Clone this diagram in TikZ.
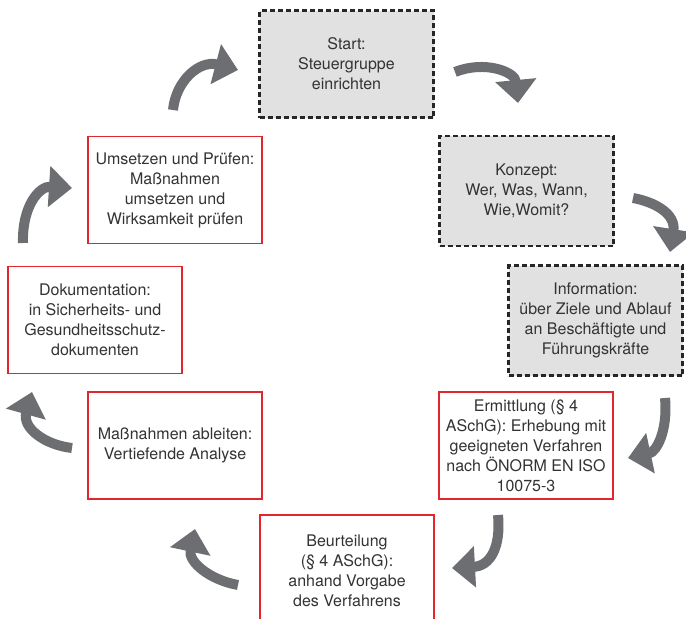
\documentclass[tikz,border=0pt]{standalone}
\usepackage{fontspec}
\setmainfont{TeX Gyre Heros}
\usetikzlibrary{arrows.meta}

\definecolor{boxred}{HTML}{E3262B}
\definecolor{boxgray}{HTML}{E1E1E2}
\definecolor{arrowgray}{HTML}{6D6E71}
\definecolor{textgray}{HTML}{333333}

\begin{document}
\begin{tikzpicture}[x=1pt, y=-1pt,
    phase/.style={rectangle, align=center, text=textgray,
        minimum width=174pt, minimum height=107pt, inner sep=4pt,
        font=\fontsize{16}{20}\selectfont},
    plan/.style={phase, draw=black!85, fill=boxgray, line width=2.2pt,
        dash pattern=on 5pt off 3pt},
    act/.style={phase, draw=boxred, fill=white, line width=1.8pt},
    loop/.style={draw=arrowgray, line width=10pt,
        -{Triangle[width=40pt, length=23pt]}}
]
    \useasboundingbox (0,0) rectangle (686,619);
    \clip (0,0) rectangle (686,619);
    \node[plan] (start) at (346.5,64) {Start:\\Steuergruppe\\einrichten};
    \node[plan, minimum height=110pt] (konzept) at (526.5,191) {Konzept:\\Wer, Was, Wann,\\Wie,Womit?};
    \node[plan, minimum height=110pt] (info) at (595.5,320.5) {Information:\\über Ziele und Ablauf\\an Beschäftigte und\\Führungskräfte};
    \node[act] (ermittlung) at (526,445.5) {Ermittlung (§ 4\\ASchG): Erhebung mit\\geeigneten Verfahren\\nach ÖNORM EN ISO\\10075-3};
    \node[act, minimum height=112pt] (beurteilung) at (347,571) {Beurteilung\\(§ 4 ASchG):\\anhand Vorgabe\\des Verfahrens};
    \node[act] (ableiten) at (175,445.5) {Maßnahmen ableiten:\\Vertiefende Analyse};
    \node[act] (doku) at (95,320) {Dokumentation:\\in Sicherheits- und\\Gesundheitsschutz-\\dokumenten};
    \node[act] (umsetzen) at (175,190) {Umsetzen und Prüfen:\\Maßnahmen\\umsetzen und\\Wirksamkeit prüfen};
    % curved arrows between the phases
    \coordinate (a1) at (173,110);  \coordinate (b1) at (238,70);
    \coordinate (a2) at (455,72);   \coordinate (b2) at (518,103);
    \coordinate (a3) at (633,198);  \coordinate (b3) at (670,252);
    \coordinate (a4) at (665,398);  \coordinate (b4) at (628,458);
    \coordinate (a5) at (498,515);  \coordinate (b5) at (452,568);
    \coordinate (a6) at (238,585);  \coordinate (b6) at (195,529);
    \coordinate (a7) at (72,448);   \coordinate (b7) at (32,392);
    \coordinate (a8) at (23,243);   \coordinate (b8) at (72,188);
    \draw[loop] (a1) .. controls (176,80) and (200,60) .. (b1);
    \draw[loop] (a2) .. controls (485,60) and (515,72) .. (b2);
    \draw[loop] (a3) .. controls (655,202) and (676,214) .. (b3);
    \draw[loop] (a4) .. controls (668,432) and (656,452) .. (b4);
    \draw[loop] (a5) .. controls (501,548) and (490,566) .. (b5);
    \draw[loop] (a6) .. controls (210,580) and (188,562) .. (b6);
    \draw[loop] (a7) .. controls (45,445) and (22,428) .. (b7);
    \draw[loop] (a8) .. controls (22,205) and (40,186) .. (b8);
\end{tikzpicture}
\end{document}
